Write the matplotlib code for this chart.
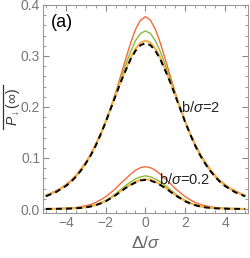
import numpy as np
import matplotlib
matplotlib.use('Agg')
import matplotlib.pyplot as plt
from matplotlib.ticker import MultipleLocator

plt.rcParams['font.family'] = ['Liberation Sans', 'DejaVu Sans']
plt.rcParams['mathtext.fontset'] = 'custom'
plt.rcParams['mathtext.rm'] = 'Liberation Sans'
plt.rcParams['mathtext.it'] = 'Liberation Sans:italic'

# detuning grid, Delta/sigma
delta = [-5.0, -4.75, -4.5, -4.25, -4.0, -3.75, -3.5, -3.25, -3.0, -2.75,
         -2.5, -2.25, -2.0, -1.75, -1.5, -1.25, -1.0, -0.75, -0.5, -0.25,
         0.0, 0.25, 0.5, 0.75, 1.0, 1.25, 1.5, 1.75, 2.0, 2.25,
         2.5, 2.75, 3.0, 3.25, 3.5, 3.75, 4.0, 4.25, 4.5, 4.75, 5.0]

# b/sigma = 2
hi_red = [0.027, 0.031, 0.036, 0.041, 0.048, 0.056, 0.066, 0.078, 0.092, 0.108,
          0.127, 0.148, 0.171, 0.198, 0.228, 0.260, 0.293, 0.325, 0.352, 0.370,
          0.377, 0.370, 0.352, 0.325, 0.293, 0.260, 0.228, 0.198, 0.171, 0.148,
          0.127, 0.108, 0.092, 0.078, 0.066, 0.056, 0.048, 0.041, 0.036, 0.031, 0.027]
hi_green = [0.026, 0.030, 0.034, 0.040, 0.046, 0.054, 0.064, 0.076, 0.090, 0.106,
            0.125, 0.147, 0.171, 0.197, 0.225, 0.254, 0.282, 0.308, 0.330, 0.344,
            0.349, 0.344, 0.330, 0.308, 0.282, 0.254, 0.225, 0.197, 0.171, 0.147,
            0.125, 0.106, 0.090, 0.076, 0.064, 0.054, 0.046, 0.040, 0.034, 0.030, 0.026]
hi_yellow = [0.026, 0.030, 0.034, 0.040, 0.046, 0.054, 0.064, 0.076, 0.090, 0.106,
             0.125, 0.147, 0.171, 0.197, 0.223, 0.249, 0.273, 0.296, 0.314, 0.326,
             0.330, 0.326, 0.314, 0.296, 0.273, 0.249, 0.223, 0.197, 0.171, 0.147,
             0.125, 0.106, 0.090, 0.076, 0.064, 0.054, 0.046, 0.040, 0.034, 0.030, 0.026]
hi_black = [0.025, 0.029, 0.033, 0.039, 0.045, 0.053, 0.063, 0.075, 0.089, 0.105,
            0.124, 0.146, 0.170, 0.196, 0.222, 0.248, 0.271, 0.293, 0.310, 0.321,
            0.325, 0.321, 0.310, 0.293, 0.271, 0.248, 0.222, 0.196, 0.170, 0.146,
            0.124, 0.105, 0.089, 0.075, 0.063, 0.053, 0.045, 0.039, 0.033, 0.029, 0.025]

# b/sigma = 0.2
lo_red = [0.0005, 0.0006, 0.0008, 0.001, 0.0015, 0.002, 0.003, 0.0045, 0.0065, 0.009,
          0.013, 0.018, 0.024, 0.032, 0.040, 0.050, 0.059, 0.068, 0.076, 0.081,
          0.083, 0.081, 0.076, 0.068, 0.059, 0.050, 0.040, 0.032, 0.024, 0.018,
          0.013, 0.009, 0.0065, 0.0045, 0.003, 0.002, 0.0015, 0.001, 0.0008, 0.0006, 0.0005]
lo_green = [0.0003, 0.0004, 0.0005, 0.0007, 0.001, 0.0015, 0.0021, 0.0028, 0.0038, 0.0058,
            0.0085, 0.012, 0.017, 0.023, 0.030, 0.038, 0.046, 0.053, 0.059, 0.063,
            0.065, 0.063, 0.059, 0.053, 0.046, 0.038, 0.030, 0.023, 0.017, 0.012,
            0.0085, 0.0058, 0.0038, 0.0028, 0.0021, 0.0015, 0.001, 0.0007, 0.0005, 0.0004, 0.0003]
lo_yellow = [0.0002, 0.0003, 0.0004, 0.0005, 0.0007, 0.001, 0.0015, 0.0023, 0.0034, 0.0052,
             0.0078, 0.0113, 0.0155, 0.0215, 0.0278, 0.035, 0.042, 0.048, 0.0535, 0.057,
             0.0585, 0.057, 0.0535, 0.048, 0.042, 0.035, 0.0278, 0.0215, 0.0155, 0.0113,
             0.0078, 0.0052, 0.0034, 0.0023, 0.0015, 0.001, 0.0007, 0.0005, 0.0004, 0.0003, 0.0002]
lo_black = [0.0002, 0.0003, 0.0004, 0.0005, 0.0007, 0.001, 0.0015, 0.0022, 0.0033, 0.005,
            0.0075, 0.011, 0.015, 0.021, 0.027, 0.034, 0.041, 0.047, 0.052, 0.056,
            0.057, 0.056, 0.052, 0.047, 0.041, 0.034, 0.027, 0.021, 0.015, 0.011,
            0.0075, 0.005, 0.0033, 0.0022, 0.0015, 0.001, 0.0007, 0.0005, 0.0004, 0.0003, 0.0002]

c_red = '#f26b3a'
c_green = '#8cba3c'
c_yellow = '#f3b24a'

fig = plt.figure(figsize=(2.51, 2.58), dpi=100)
ax = fig.add_axes([0.171, 0.174, 0.817, 0.807])

for red, green, yellow, black in [(hi_red, hi_green, hi_yellow, hi_black),
                                  (lo_red, lo_green, lo_yellow, lo_black)]:
    ax.plot(delta, red, color=c_red, lw=1.0)
    ax.plot(delta, green, color=c_green, lw=1.0)
    ax.plot(delta, yellow, color=c_yellow, lw=1.5)
    ax.plot(delta, black, color='black', lw=1.4, ls=(0, (3, 2.2)))

ax.set_xlim(-5.15, 5.15)
ax.set_ylim(-0.008, 0.4)
ax.xaxis.set_major_locator(MultipleLocator(2))
ax.xaxis.set_minor_locator(MultipleLocator(0.5))
ax.yaxis.set_major_locator(MultipleLocator(0.1))
ax.yaxis.set_minor_locator(MultipleLocator(0.02))
ax.yaxis.set_major_formatter(plt.FuncFormatter(lambda v, p: f'{v:.1f}'))
ax.xaxis.set_major_formatter(plt.FuncFormatter(lambda v, p: f'{v:.0f}'.replace('-', '\u2212')))

gray = '#777777'
for sp in ax.spines.values():
    sp.set_color('#999999')
    sp.set_linewidth(0.8)
ax.tick_params(which='both', direction='in', top=True, right=True,
               color='#888888', labelcolor=gray, labelsize=10, pad=2)
ax.tick_params(which='major', length=4, width=0.8)
ax.tick_params(which='minor', length=2.2, width=0.6)

ax.set_xlabel(r'$\Delta/\sigma$', fontsize=12.5, color='#666666', labelpad=4)

# y label drawn as figure text, with its overline as a short line
fig.text(0.052, 0.585, r'$P_{\downarrow}(\infty)$', rotation=90, fontsize=10,
         color='#333333', ha='center', va='center')
fig.add_artist(plt.Line2D([0.012, 0.012], [0.5, 0.67], color='#333333', lw=0.9))

ax.text(0.04, 0.955, '(a)', transform=ax.transAxes, fontsize=13, va='top', ha='left')
ax.text(1.8, 0.198, r'b/$\sigma$=2', fontsize=10.5, color='#222222', va='center')
ax.text(0.7, 0.057, r'b/$\sigma$=0.2', fontsize=10.5, color='#222222', va='center')

fig.savefig('out.png', dpi=100)
